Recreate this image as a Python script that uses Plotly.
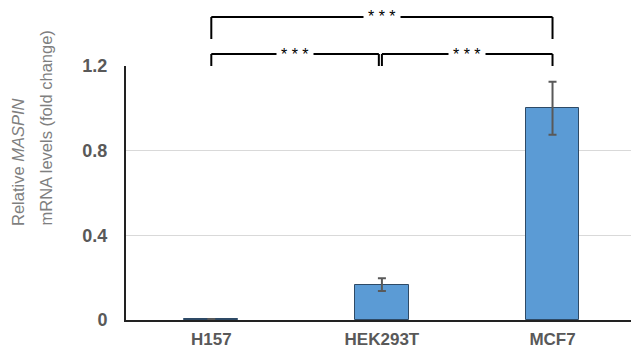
import plotly.graph_objects as go

# ---- data ----
categories = ["H157", "HEK293T", "MCF7"]
values = [0.005, 0.167, 1.0]
errors = [0.0, 0.03, 0.125]
y_ticks = [0, 0.4, 0.8, 1.2]
y_ticklabels = ["0", "0.4", "0.8", "1.2"]
comparisons = [  # (from, to, label, level)
    ("H157", "HEK293T", "* * *", 0),
    ("HEK293T", "MCF7", "* * *", 0),
    ("H157", "MCF7", "* * *", 1),
]

W, H = 631, 351
L, R, T, B = 126, 0, 66, 31
pw, ph = W - L - R, H - T - B

def px_x(p):
    return (p - L) / pw

def px_y(p):
    return (H - B - p) / ph

FONT = "Liberation Sans, Arial, sans-serif"
idx = {c: i for i, c in enumerate(categories)}

fig = go.Figure()
fig.add_trace(go.Bar(
    x=list(range(len(categories))), y=values,
    width=0.316,
    marker=dict(color="#5b9bd5", line=dict(color="#2e4a66", width=1)),
    error_y=dict(type="data", array=errors, visible=True,
                 color="#595959", thickness=2, width=4),
    showlegend=False,
))

shapes = []
annotations = []
level_y = {0: (px_y(54), px_y(66)), 1: (px_y(17), px_y(39))}
for a, b, lab, lev in comparisons:
    xa, xb = idx[a], idx[b]
    if lev == 0 and b == "HEK293T":
        xb -= 0.018
    ytop, ybot = level_y[lev]
    ln = dict(color="black", width=2)
    shapes.append(dict(type="line", xref="x", yref="paper", x0=xa, x1=xb, y0=ytop, y1=ytop, line=ln))
    shapes.append(dict(type="line", xref="x", yref="paper", x0=xa, x1=xa, y0=ytop, y1=ybot, line=ln))
    shapes.append(dict(type="line", xref="x", yref="paper", x0=xb, x1=xb, y0=ytop, y1=ybot, line=ln))
    annotations.append(dict(
        x=(xa + xb) / 2, y=ytop, xref="x", yref="paper",
        text=lab, showarrow=False, bgcolor="white",
        font=dict(family=FONT, size=16, color="black"),
        xanchor="center", yanchor="middle", borderpad=4,
    ))

# y-axis title, two lines
annotations.append(dict(
    x=px_x(18), y=px_y(228), xref="paper", yref="paper",
    text="Relative <i>MASPIN</i>", textangle=-90, showarrow=False,
    xanchor="center", yanchor="bottom",
    font=dict(family=FONT, size=16.5, color="#7f7f7f"),
))
annotations.append(dict(
    x=px_x(45), y=px_y(228), xref="paper", yref="paper",
    text="mRNA levels (fold change)", textangle=-90, showarrow=False,
    xanchor="center", yanchor="bottom",
    font=dict(family=FONT, size=16.5, color="#7f7f7f"),
))

fig.update_layout(
    width=W, height=H,
    margin=dict(l=L, r=R, t=T, b=B, pad=0, autoexpand=False),
    paper_bgcolor="white", plot_bgcolor="white",
    shapes=shapes, annotations=annotations,
    xaxis=dict(
        range=[-0.5, 2.46], tickmode="array", automargin=False,
        tickvals=list(range(len(categories))), ticktext=categories,
        showgrid=False, zeroline=False,
        showline=True, linecolor="#222222", linewidth=2,
        ticks="", ticklabelstandoff=3,
        tickfont=dict(family=FONT, size=17, color="#595959", weight="bold"),
    ),
    yaxis=dict(
        range=[0, 1.2], tickmode="array", automargin=False,
        tickvals=y_ticks, ticktext=y_ticklabels,
        showgrid=True, gridcolor="#d9d9d9", gridwidth=1,
        zeroline=False, showline=True, linecolor="#222222", linewidth=2,
        ticks="", ticklabelstandoff=13,
        tickfont=dict(family=FONT, size=18, color="#595959", weight="bold"),
    ),
    bargap=0,
)

fig.write_html("out.html", config={"displayModeBar": False},
               post_script="document.body.style.margin='0';document.body.style.overflow='hidden';")
